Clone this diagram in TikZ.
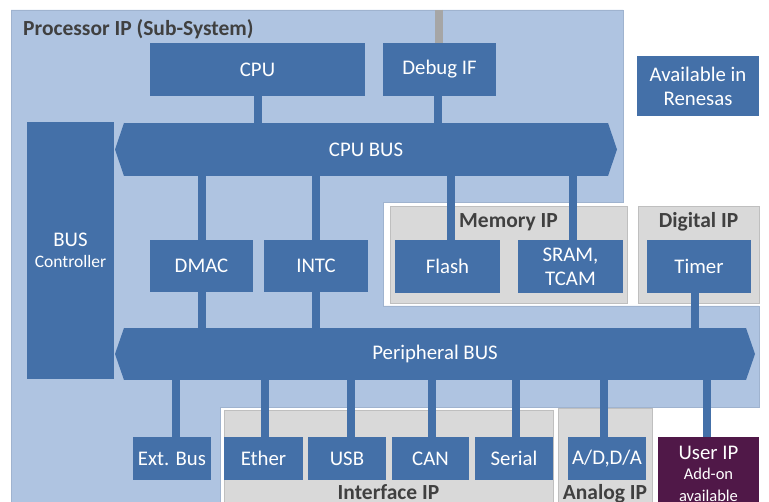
\documentclass[tikz,border=0pt]{standalone}
\usepackage{fontspec}
\setmainfont{Carlito}
\definecolor{lblue}{HTML}{AFC4E1}
\definecolor{lbord}{HTML}{9FB3CF}
\definecolor{dblue}{HTML}{4470A8}
\definecolor{grayf}{HTML}{D9D9D9}
\definecolor{grayb}{HTML}{BFBFBF}
\definecolor{dbar}{HTML}{A6A6A6}
\definecolor{lbl}{HTML}{404040}
\definecolor{purp}{HTML}{501848}
\tikzset{
  blk/.style={fill=dblue, text=white, inner sep=0pt, outer sep=0pt,
    font=\fontsize{20.8}{24}\selectfont, align=center},
  grp/.style={fill=grayf, draw=grayb, line width=0.8pt, inner sep=0pt, outer sep=0pt},
  conn/.style={draw=dblue, line width=8pt},
  grplbl/.style={text=lbl, font=\bfseries\fontsize{21.5}{24}\selectfont, inner sep=0pt, anchor=base},
}
\begin{document}
\begin{tikzpicture}[x=1pt,y=-1pt]
\useasboundingbox (0,0) rectangle (769,502);
\clip (0,0) rectangle (769,502);
% background region
\fill[white] (0,0) rectangle (769,502);
\filldraw[fill=lblue, draw=lbord, line width=0.8pt]
  (11,10) -- (623,10) -- (623,202) -- (383,202) -- (383,306) -- (759,306)
  -- (759,407) -- (220,407) -- (220,515) -- (11,515) -- cycle;
\node[grplbl, anchor=base west] (ptitle) at (23,36) {Processor IP (Sub-System)};

% group boxes
\node[grp, minimum width=237pt, minimum height=97pt] (memg) at (508.5,254.5) {};
\node[grp, minimum width=121pt, minimum height=97pt] (digg) at (698.5,254.5) {};
\node[grp, minimum width=329pt, minimum height=110pt] (intg) at (388.5,465) {};
\node[grp, minimum width=94pt, minimum height=112pt] (anag) at (605,464) {};
\node[grplbl] (meml) at (508.5,228) {Memory IP};
\node[grplbl] (digl) at (698.5,228) {Digital IP};
\node[grplbl] (intl) at (388.5,500) {Interface IP};
\node[grplbl] (anal) at (605,500) {Analog IP};

% blocks
\node[blk, minimum width=215pt, minimum height=53pt] (cpu) at (257.5,69.5) {CPU};
\node[blk, minimum width=113pt, minimum height=53pt] (debug) at (439.5,69.5) {Debug IF};
\node[blk, minimum width=122pt, minimum height=60pt] (avail) at (698,86) {Available in\\Renesas};
\node[blk, minimum width=87pt, minimum height=257pt] (busctrl) at (70.5,250.5)
  {BUS\\[-3pt]{\fontsize{17.5}{20}\selectfont Controller}};
\node[blk, minimum width=484pt, minimum height=53pt] (cpubus) at (366,149.5) {CPU BUS};
\node[blk, minimum width=103pt, minimum height=52pt] (dmac) at (201.5,266) {DMAC};
\node[blk, minimum width=104pt, minimum height=52pt] (intc) at (316,266) {INTC};
\node[blk, minimum width=105pt, minimum height=53pt] (flash) at (447.5,266.5) {Flash};
\node[blk, minimum width=105pt, minimum height=53pt] (sram) at (570.5,266.5) {SRAM,\\TCAM};
\node[blk, minimum width=104pt, minimum height=53pt] (timer) at (699,266.5) {Timer};
\node[blk, minimum width=622pt, minimum height=52pt] (pbus) at (435,354) {Peripheral BUS};
\node[blk, minimum width=78pt, minimum height=43pt] (extbus) at (172,458.5) {Ext. Bus};
\node[blk, minimum width=79pt, minimum height=43pt] (ether) at (263.5,458.5) {Ether};
\node[blk, minimum width=78pt, minimum height=43pt] (usb) at (347,458.5) {USB};
\node[blk, minimum width=77pt, minimum height=43pt] (can) at (430.5,458.5) {CAN};
\node[blk, minimum width=78pt, minimum height=43pt] (serial) at (514,458.5) {Serial};
\node[blk, minimum width=78pt, minimum height=43pt] (adda) at (607,458.5) {A/D,D/A};
\node[blk, fill=purp, minimum width=101pt, minimum height=73pt] (userip) at (708.5,473.5)
  {User IP\\[-4pt]{\fontsize{16.5}{19}\selectfont Add-on}\\[-2pt]{\fontsize{16.5}{19}\selectfont available}};

% bus arrow tips
\fill[dblue] (cpubus.north west) -- ++(-9,26.5) -- (cpubus.south west) -- cycle;
\fill[dblue] (cpubus.north east) -- ++(9,26.5) -- (cpubus.south east) -- cycle;
\fill[dblue] (pbus.north west) -- ++(-9,26) -- (pbus.south west) -- cycle;
\fill[dblue] (pbus.north east) -- ++(9,26) -- (pbus.south east) -- cycle;

% debug port
\coordinate (dbgtop) at (439,10);
\draw[draw=dbar, line width=8pt] (dbgtop) -- (dbgtop |- debug.north);

% connectors to CPU bus
\draw[conn] (cpu.south) -- (cpu.south |- cpubus.north);
\draw[conn] ([xshift=-2pt]debug.south) -- ([xshift=-2pt]debug.south |- cpubus.north);
\draw[conn] (dmac.north) -- (dmac.north |- cpubus.south);
\draw[conn] (intc.north) -- (intc.north |- cpubus.south);
\draw[conn] ([xshift=3.5pt]flash.north) -- ([xshift=3.5pt]flash.north |- cpubus.south);
\draw[conn] ([xshift=2.5pt]sram.north) -- ([xshift=2.5pt]sram.north |- cpubus.south);

% connectors to peripheral bus
\draw[conn] (dmac.south) -- (dmac.south |- pbus.north);
\draw[conn] (intc.south) -- (intc.south |- pbus.north);
\draw[conn] ([xshift=-4pt]timer.south) -- ([xshift=-4pt]timer.south |- pbus.north);
\draw[conn] ([xshift=4pt]extbus.north) -- ([xshift=4pt]extbus.north |- pbus.south);
\draw[conn] ([xshift=1pt]ether.north) -- ([xshift=1pt]ether.north |- pbus.south);
\draw[conn] ([xshift=4pt]usb.north) -- ([xshift=4pt]usb.north |- pbus.south);
\draw[conn] ([xshift=1.5pt]can.north) -- ([xshift=1.5pt]can.north |- pbus.south);
\draw[conn] ([xshift=2pt]serial.north) -- ([xshift=2pt]serial.north |- pbus.south);
\draw[conn] ([xshift=-3.5pt]adda.north) -- ([xshift=-3.5pt]adda.north |- pbus.south);
\draw[conn] ([xshift=-1.5pt]userip.north) -- ([xshift=-1.5pt]userip.north |- pbus.south);
\end{tikzpicture}
\end{document}
